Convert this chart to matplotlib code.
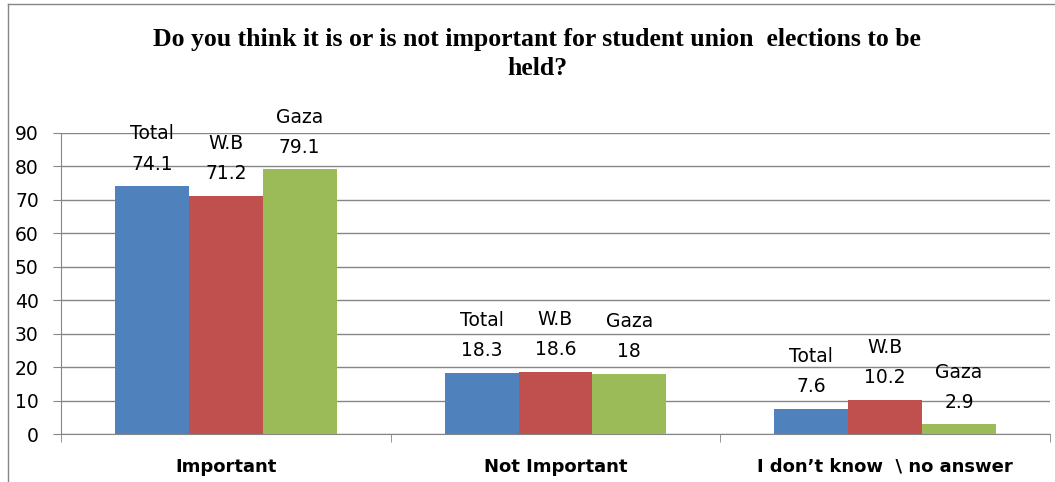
import matplotlib
matplotlib.use("Agg")
import matplotlib.pyplot as plt
import numpy as np
from matplotlib.lines import Line2D

# data
categories = ["Important", "Not Important", "I don\u2019t know  \\ no answer"]
series_names = ["Total", "W.B", "Gaza"]
total = [74.1, 18.3, 7.6]
wb = [71.2, 18.6, 10.2]
gaza = [79.1, 18, 2.9]
colors = ["#4f81bd", "#c0504d", "#9bbb59"]

plt.rcParams["font.family"] = ["DejaVu Sans"]

fig = plt.figure(figsize=(10.55, 4.82), dpi=100)
ax = fig.add_axes([61 / 1055, 1 - 434 / 482, 989 / 1055, 301 / 482])

x = np.arange(len(categories))
w = 0.224
for i, (name, vals) in enumerate(zip(series_names, [total, wb, gaza])):
    bars = ax.bar(x + (i - 1) * w, vals, w, color=colors[i], zorder=3)
    for b, v in zip(bars, vals):
        ax.annotate(f"{name}\n{v:g}", (b.get_x() + b.get_width() / 2, v),
                    xytext=(0, 9), textcoords="offset points",
                    ha="center", va="bottom", fontsize=13.5, linespacing=1.75)

ax.set_xlim(-0.5, 2.5)
ax.set_ylim(0, 90)
ax.set_yticks(range(0, 91, 10))
ax.yaxis.grid(True, color="#868686", linewidth=1, zorder=0)
ax.tick_params(axis="y", labelsize=13.5, length=6, color="#868686", pad=10)
ax.set_xticks(x)
ax.set_xticklabels(categories, fontsize=13, fontweight="bold")
ax.set_xticks([-0.5, 0.5, 1.5, 2.5], minor=True)
ax.tick_params(axis="x", which="major", length=0, pad=17)
ax.tick_params(axis="x", which="minor", length=6, color="#868686")
for s in ["top", "right"]:
    ax.spines[s].set_visible(False)
ax.spines["left"].set_color("#868686")
ax.spines["bottom"].set_color("#868686")

fig.text(0.509, 1 - 54 / 482,
         "Do you think it is or is not important for student union  elections to be\nheld?",
         ha="center", va="center", fontsize=18.5, fontweight="bold",
         family="Liberation Serif", linespacing=1.3)

# outer chart border
fig.add_artist(Line2D([8 / 1055, 8 / 1055], [0, 1 - 4 / 482], transform=fig.transFigure, color="#868686", lw=1))
fig.add_artist(Line2D([8 / 1055, 1], [1 - 4 / 482, 1 - 4 / 482], transform=fig.transFigure, color="#868686", lw=1))

fig.savefig("out.png", dpi=100)
